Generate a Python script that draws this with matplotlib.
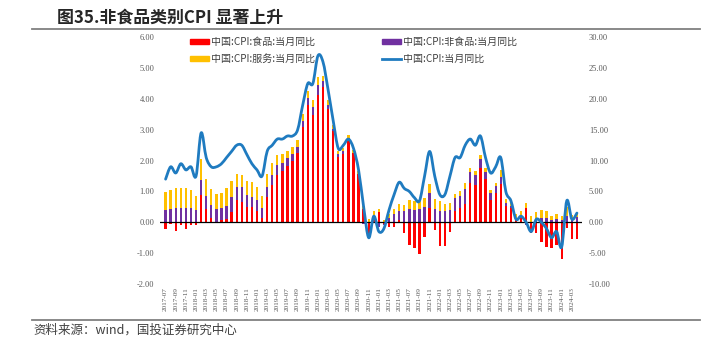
import numpy as np
import pandas as pd
import matplotlib
matplotlib.use("Agg")
import matplotlib.pyplot as plt
from matplotlib.path import Path
from matplotlib.patches import PathPatch, Patch
from matplotlib.lines import Line2D
from matplotlib.ticker import MultipleLocator, FormatStrFormatter, FixedLocator

plt.rcParams['font.family'] = ['Noto Sans CJK SC', 'DejaVu Sans']

# Monthly categories, 2017-07 .. 2024-04
months = pd.period_range('2017-07', '2024-04', freq='M').strftime('%Y-%m').tolist()
tick_labels = months[::2]

# CPI food, YoY %
food = [-1.1, -0.2, -1.4, -0.4, -1.1, -0.4,
        -0.5, 4.4, 2.1, 0.7, 0.1, 0.3, 0.5, 1.7, 3.6, 3.3, 2.5, 2.5,
        1.9, 0.7, 4.1, 6.1, 7.7, 8.3, 9.1, 10.0, 11.2, 15.5, 19.1, 17.4,
        20.6, 21.9, 18.3, 14.8, 10.6, 11.1, 13.2, 11.2, 7.9, 2.2, -2.0, 1.2,
        1.6, -0.2, -0.7, -0.7, 0.3, -1.7, -3.7, -4.1, -5.2, -2.4, 2.4, -1.2,
        -3.8, -3.9, -1.5, 1.9, 2.3, 2.9, 6.3, 6.1, 8.8, 7.0, 3.7, 4.8,
        6.2, 2.6, 2.4, 0.4, 1.0, 2.3, -1.7, -1.7, -3.2, -4.0, -4.2, -3.7,
        -5.9, -0.9, -2.7, -2.7]

# CPI non-food, YoY %
nonfood = [2.0, 2.2, 2.4, 2.4, 2.4, 2.3,
           2.0, 2.5, 2.1, 2.1, 2.0, 2.0, 2.2, 2.4, 2.2, 2.4, 2.0, 1.6,
           1.7, 1.6, 1.7, 1.6, 1.6, 1.4, 1.3, 1.1, 1.0, 0.9, 1.0, 1.3,
           1.6, 1.0, 0.7, 0.4, 0.4, 0.4, 0.4, 0.0, 0.0, -0.3, 0.0, 0.0,
           -0.8, -0.2, 0.7, 1.3, 1.6, 1.8, 2.1, 2.0, 2.2, 2.5, 2.3, 2.2,
           1.9, 1.9, 2.0, 2.1, 2.0, 2.5, 1.9, 1.6, 1.5, 1.1, 1.1, 1.1,
           1.2, 0.6, 0.3, 0.1, 0.0, -0.5, 0.0, 0.5, 0.7, 0.7, 0.3, 0.5,
           0.4, 1.1, 0.7, 0.9]

# CPI services, YoY %
services = [2.9, 3.1, 3.2, 3.1, 3.1, 3.0,
            2.2, 3.4, 2.8, 2.6, 2.5, 2.45, 2.8, 2.65, 2.1, 2.0, 2.15, 2.45,
            2.05, 2.0, 2.0, 1.9, 1.6, 1.3, 1.2, 1.1, 1.1, 1.2, 1.2, 1.1,
            1.3, 0.8, 0.9, 0.5, 0.6, 0.5, 0.5, 0.5, 0.4, 0.5, 0.6, 0.6,
            0.6, 0.4, 0.7, 0.8, 1.0, 1.0, 1.6, 1.5, 1.4, 1.4, 1.5, 1.6,
            1.55, 1.1, 1.1, 0.65, 0.8, 1.0, 0.65, 0.7, 0.55, 0.7, 0.4, 0.45,
            1.1, 0.55, 0.7, 0.9, 0.9, 0.8, 1.0, 1.1, 1.25, 1.1, 0.8, 0.9,
            0.65, 1.35, 0.5, 0.55]

# Headline CPI, YoY %
cpi = [1.4, 1.8, 1.6, 1.9, 1.7, 1.8,
       1.5, 2.9, 2.1, 1.8, 1.8, 1.9, 2.1, 2.3, 2.5, 2.5, 2.2, 1.9,
       1.7, 1.5, 2.3, 2.5, 2.7, 2.7, 2.8, 2.8, 3.0, 3.8, 4.5, 4.5,
       5.4, 5.2, 4.3, 3.3, 2.4, 2.5, 2.7, 2.4, 1.7, 0.5, -0.5, 0.2,
       -0.3, -0.2, 0.4, 0.9, 1.3, 1.1, 1.0, 0.8, 0.7, 1.5, 2.3, 1.5,
       0.9, 0.9, 1.5, 2.1, 2.1, 2.5, 2.7, 2.5, 2.8, 2.1, 1.6, 1.8,
       2.1, 1.0, 0.7, 0.1, 0.2, 0.0, -0.3, 0.1, 0.0, -0.2, -0.5, -0.3,
       -0.8, 0.7, 0.1, 0.3]

series_names = ['中国:CPI:食品:当月同比', '中国:CPI:非食品:当月同比',
                '中国:CPI:服务:当月同比', '中国:CPI:当月同比']
colors = ['#FF0000', '#7030A0', '#FFC000']
line_color = '#1F7BC0'
grey = '#595959'

W, H = 721, 341
fig = plt.figure(figsize=(W / 100, H / 100), dpi=100)
fig.patch.set_facecolor('white')

ax_l, ax_r, ax_t, ax_b = 160, 582, 37.3, 284
ax = fig.add_axes([ax_l / W, 1 - ax_b / H, (ax_r - ax_l) / W, (ax_b - ax_t) / H])
ax2 = ax.twinx()
ax.set_zorder(ax2.get_zorder() + 1)
ax.patch.set_visible(False)

x = np.arange(len(months))

# Stacked columns on the right axis; positives and negatives stack separately
pos_base = np.zeros(len(x))
neg_base = np.zeros(len(x))
for vals, col in zip([food, nonfood, services], colors):
    v = np.asarray(vals, dtype=float)
    base = np.where(v >= 0, pos_base, neg_base)
    ax2.bar(x, v, bottom=base, width=0.46, color=col, linewidth=0)
    pos_base += np.where(v > 0, v, 0)
    neg_base += np.where(v < 0, v, 0)


def smooth_path(xs, ys):
    pts = np.column_stack([xs, ys]).astype(float)
    n = len(pts)
    verts = [pts[0]]
    codes = [Path.MOVETO]
    for i in range(n - 1):
        p0 = pts[i - 1] if i > 0 else pts[i]
        p1 = pts[i]
        p2 = pts[i + 1]
        p3 = pts[i + 2] if i + 2 < n else pts[i + 1]
        c1 = p1 + (p2 - p0) / 6.0
        c2 = p2 - (p3 - p1) / 6.0
        verts += [c1, c2, p2]
        codes += [Path.CURVE4] * 3
    return Path(verts, codes)


# Headline CPI as a smoothed line on the left axis
ax.add_patch(PathPatch(smooth_path(x, cpi), fill=False, edgecolor=line_color,
                       lw=2.0, capstyle='round', joinstyle='round', zorder=3))
ax.axhline(0, color='black', lw=0.9, zorder=2)

ax.set_xlim(-1.1, 82.0)
ax.set_ylim(-2, 6)
ax2.set_ylim(-10, 30)
ax.yaxis.set_major_locator(MultipleLocator(1))
ax2.yaxis.set_major_locator(MultipleLocator(5))
ax.yaxis.set_major_formatter(FormatStrFormatter('%.2f'))
ax2.yaxis.set_major_formatter(FormatStrFormatter('%.2f'))

ax.xaxis.set_major_locator(FixedLocator(x[::2]))
ax.set_xticklabels(tick_labels, rotation=90, ha='center', va='top',
                   family='Liberation Serif', fontsize=5.2, color=grey)

for a in (ax, ax2):
    for s in a.spines.values():
        s.set_visible(False)
    a.tick_params(length=0, colors=grey)
ax.tick_params(axis='y', pad=4)
ax2.tick_params(axis='y', pad=5)
ax.tick_params(axis='x', pad=2.5)
for lab in ax.get_yticklabels() + ax2.get_yticklabels():
    lab.set_family('Liberation Serif')
    lab.set_fontsize(6)
    lab.set_color(grey)

# Legend: two columns, read row by row
handles = [Patch(color=colors[0]), Patch(color=colors[2]),
           Patch(color=colors[1]), Line2D([], [], color=line_color, lw=2.0)]
labels = [series_names[0], series_names[2], series_names[1], series_names[3]]
leg = fig.legend(handles, labels, loc='upper left', ncol=2,
                 bbox_to_anchor=(190 / W, 1 - 37 / H), frameon=False,
                 fontsize=7.2, handlelength=1.9, handleheight=0.5,
                 handletextpad=0.25, columnspacing=6.6, labelspacing=0.7,
                 borderaxespad=0, borderpad=0)
for t in leg.get_texts():
    t.set_color('#404040')

# Title, rules and source line
fig.text(57 / W, 1 - 18 / H, '图35.非食品类别CPI 显著上升', fontsize=12.2,
         fontweight='bold', color='#262626', va='center', ha='left')
fig.add_artist(Line2D([32 / W, 700 / W], [1 - 29 / H] * 2, color='#808080', lw=1.3))
fig.add_artist(Line2D([32 / W, 700 / W], [1 - 320 / H] * 2, color='#808080', lw=1.3))
fig.text(33 / W, 1 - 330 / H, '资料来源：wind，国投证券研究中心', fontsize=9,
         color='#404040', va='center', ha='left', style='italic')

fig.savefig('out.png', dpi=100, facecolor='white')
